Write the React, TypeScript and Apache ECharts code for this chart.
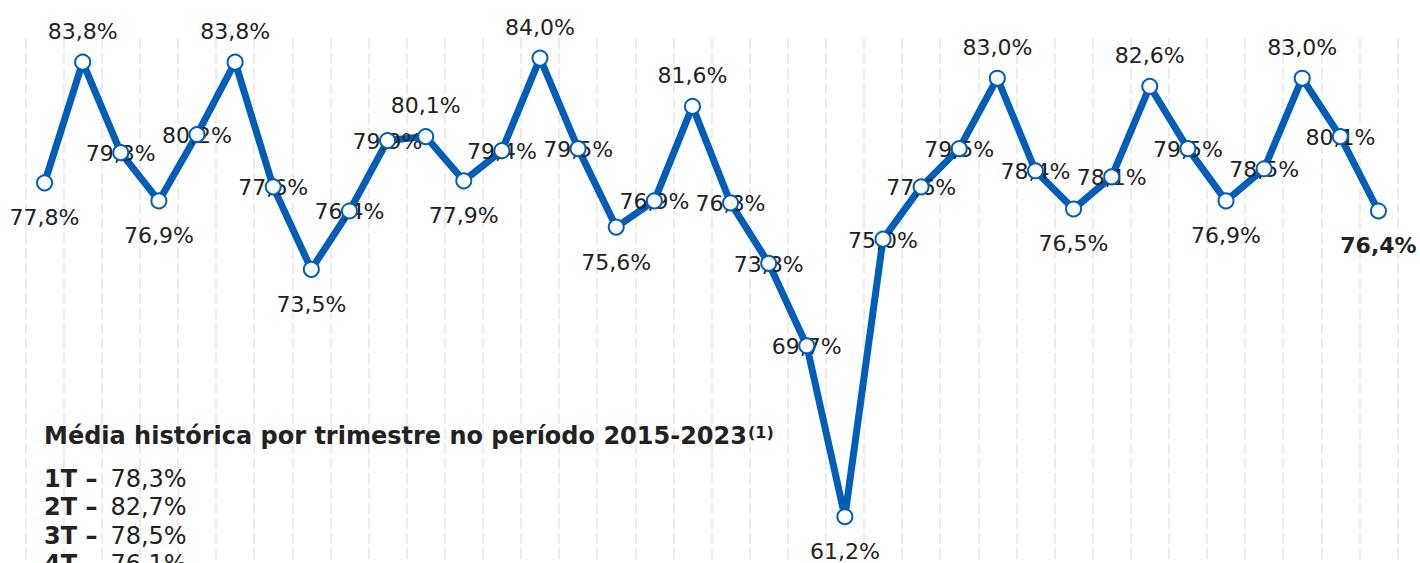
import React, { useEffect, useRef } from 'react';
import * as echarts from 'echarts';

const categories = [
  '1T15', '2T15', '3T15', '4T15',
  '1T16', '2T16', '3T16', '4T16',
  '1T17', '2T17', '3T17', '4T17',
  '1T18', '2T18', '3T18', '4T18',
  '1T19', '2T19', '3T19', '4T19',
  '1T20', '2T20', '3T20', '4T20',
  '1T21', '2T21', '3T21', '4T21',
  '1T22', '2T22', '3T22', '4T22',
  '1T23', '2T23', '3T23', '4T23',
];

const occupancy = [
  77.8, 83.8, 79.3, 76.9,
  80.2, 83.8, 77.6, 73.5,
  76.4, 79.9, 80.1, 77.9,
  79.4, 84.0, 79.5, 75.6,
  76.9, 81.6, 76.8, 73.8,
  69.7, 61.2, 75.0, 77.6,
  79.5, 83.0, 78.4, 76.5,
  78.1, 82.6, 79.5, 76.9,
  78.5, 83.0, 80.1, 76.4,
];

const labelPlacement = [
  'below', 'above', 'center', 'below',
  'center', 'above', 'center', 'below',
  'center', 'center', 'above', 'below',
  'center', 'above', 'center', 'below',
  'center', 'above', 'center', 'center',
  'center', 'below', 'center', 'center',
  'center', 'above', 'center', 'below',
  'center', 'above', 'center', 'below',
  'center', 'above', 'center', 'below',
];

const avgQuarters = ['1T', '2T', '3T', '4T'];
const avgValues = [78.3, 82.7, 78.5, 76.1];
const titleText = 'Média histórica por trimestre no período 2015-2023';
const titleNote = '(1)';

const FONT = '"DejaVu Sans", Verdana, sans-serif';
const BLUE = '#005EB8';
const TEXT = '#222222';

const fmt = (v: number) => v.toFixed(1).replace('.', ',') + '%';

const offsetFor = (p: string) => (p === 'above' ? -31 : p === 'below' ? 35 : 1);

export default function App() {
  const ref = useRef<HTMLDivElement>(null);

  useEffect(() => {
    if (!ref.current) return;
    const chart = echarts.init(ref.current, undefined, { renderer: 'svg' });

    let titleWidth = 703;
    try {
      const ctx = document.createElement('canvas').getContext('2d');
      if (ctx) {
        ctx.font = 'bold 24px "DejaVu Sans"';
        titleWidth = ctx.measureText(titleText).width;
      }
    } catch (e) {
      /* ignore */
    }

    const last = occupancy.length - 1;

    const legendTexts = avgQuarters.map((q, i) => ({
      type: 'text',
      left: 44,
      top: 480.8 + i * 28.4 - 14,
      z: 10,
      style: {
        text: `{b|${q} –}{n|${fmt(avgValues[i])}}`,
        fontFamily: FONT,
        fontSize: 24,
        fill: TEXT,
        rich: {
          b: { fontFamily: FONT, fontSize: 24, fontWeight: 'bold', fill: TEXT, lineHeight: 28 },
          n: {
            fontFamily: FONT,
            fontSize: 24,
            fontWeight: 'normal',
            fill: TEXT,
            lineHeight: 28,
            padding: [0, 0, 0, 13],
          },
        },
      },
    }));

    const option: any = {
      animation: false,
      backgroundColor: '#ffffff',
      grid: { left: 25.5, right: 22.5, top: 38, height: 525, containLabel: false },
      xAxis: {
        type: 'category',
        data: categories,
        boundaryGap: true,
        axisLine: { show: false },
        axisTick: { show: false, interval: 0 },
        axisLabel: { show: false, interval: 0 },
        splitLine: {
          show: true,
          interval: 0,
          lineStyle: { color: '#ebebeb', width: 2, type: [11, 4] },
        },
      },
      yAxis: {
        type: 'value',
        min: 58.9,
        max: 85,
        show: false,
        splitLine: { show: false },
      },
      series: [
        {
          type: 'line',
          data: occupancy,
          symbol: 'none',
          z: 1,
          lineStyle: { color: BLUE, width: 7, opacity: 1 },
          silent: true,
        },
        {
          type: 'scatter',
          z: 2,
          symbolSize: 1,
          itemStyle: { color: 'rgba(255,255,255,0)', opacity: 1 },
          silent: true,
          data: occupancy.map((v, i) => ({
            value: v,
            label: {
              show: true,
              position: 'inside',
              offset: [0, offsetFor(labelPlacement[i])],
              formatter: () => fmt(v),
              fontFamily: FONT,
              fontSize: 22,
              fontWeight: i === last ? 'bold' : 'normal',
              color: TEXT,
              opacity: 1,
              textBorderWidth: 0,
            },
          })),
        },
        {
          type: 'scatter',
          z: 3,
          data: occupancy,
          symbol: 'circle',
          symbolSize: 15,
          itemStyle: { color: '#ffffff', borderColor: BLUE, borderWidth: 2, opacity: 1 },
          silent: true,
        },
      ],
      graphic: [
        {
          type: 'text',
          left: 44,
          top: 435.5 - 14,
          z: 10,
          style: {
            text: titleText,
            fontFamily: FONT,
            fontSize: 24,
            fontWeight: 'bold',
            fill: TEXT,
            lineHeight: 28,
          },
        },
        {
          type: 'text',
          left: 44 + titleWidth + 1,
          top: 432.5 - 10,
          z: 10,
          style: {
            text: titleNote,
            fontFamily: FONT,
            fontSize: 16,
            fontWeight: 'bold',
            fill: TEXT,
            lineHeight: 20,
          },
        },
        ...legendTexts,
      ],
    };

    chart.setOption(option);
    return () => chart.dispose();
  }, []);

  return (
    <div
      ref={ref}
      style={{ position: 'fixed', left: 0, top: 0, width: 1420, height: 563, background: '#ffffff' }}
    />
  );
}
